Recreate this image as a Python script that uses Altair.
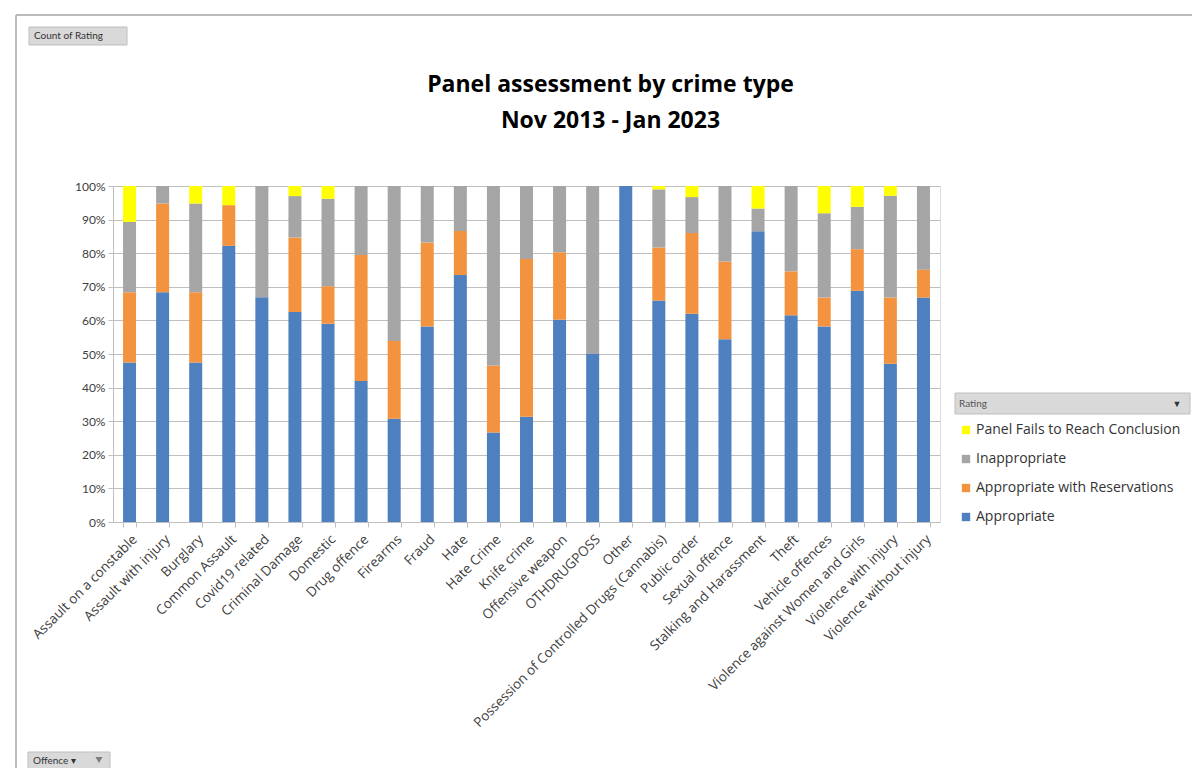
import altair as alt
import pandas as pd

categories = [
    "Assault on a constable", "Assault with injury", "Burglary", "Common Assault",
    "Covid19 related", "Criminal Damage", "Domestic", "Drug offence", "Firearms",
    "Fraud", "Hate", "Hate Crime", "Knife crime", "Offensive weapon", "OTHDRUGPOSS",
    "Other", "Possession of Controlled Drugs (Cannabis)", "Public order",
    "Sexual offence", "Stalking and Harassment", "Theft", "Vehicle offences",
    "Violence against Women and Girls", "Violence with injury", "Violence without injury",
]

# percentage share of each rating per offence (segment sizes)
appropriate = [47.5, 68.4, 47.5, 82.2, 66.9, 62.5, 59.0, 42.0, 30.7, 58.2, 73.5, 26.6, 31.3,
               60.2, 50.0, 100.0, 65.9, 62.0, 54.4, 86.5, 61.5, 58.2, 68.8, 47.1, 66.8]
reservations = [20.9, 26.4, 20.9, 12.1, 0.0, 22.2, 11.2, 37.5, 23.2, 25.0, 13.1, 20.0, 47.0,
                20.1, 0.0, 0.0, 15.8, 24.0, 23.1, 0.0, 13.1, 8.6, 12.4, 19.7, 8.3]
inappropriate = [20.9, 5.2, 26.4, 0.0, 33.1, 12.3, 26.0, 20.5, 46.1, 16.8, 13.4, 53.4, 21.7,
                 19.7, 50.0, 0.0, 17.3, 10.7, 22.5, 6.8, 25.4, 25.1, 12.6, 30.3, 24.9]
fails = [10.7, 0.0, 5.2, 5.7, 0.0, 3.0, 3.8, 0.0, 0.0, 0.0, 0.0, 0.0, 0.0,
         0.0, 0.0, 0.0, 1.0, 3.3, 0.0, 6.7, 0.0, 8.1, 6.2, 2.9, 0.0]

ratings = ["Panel Fails to Reach Conclusion", "Inappropriate",
           "Appropriate with Reservations", "Appropriate"]
colors = ["#FFFF00", "#A5A5A5", "#F39340", "#4E7FBF"]
stack_rank = {"Appropriate": 0, "Appropriate with Reservations": 1,
              "Inappropriate": 2, "Panel Fails to Reach Conclusion": 3}

series = {
    "Appropriate": appropriate,
    "Appropriate with Reservations": reservations,
    "Inappropriate": inappropriate,
    "Panel Fails to Reach Conclusion": fails,
}
rows = []
for name, vals in series.items():
    for cat, v in zip(categories, vals):
        rows.append({"Offence": cat, "Rating": name, "Share": v, "rank": stack_rank[name]})
df = pd.DataFrame(rows)

FONT = "Lato"
UIFONT = "Open Sans"
W, H = 827, 336

bars = alt.Chart(df).mark_bar(size=13).encode(
    x=alt.X("Offence:N", sort=categories, title=None,
            scale=alt.Scale(paddingInner=0.6, paddingOuter=0.3),
            axis=alt.Axis(labelAngle=-45, labelFont=UIFONT, labelFontSize=13.5,
                          labelColor="#404040", tickBand="extent", tickSize=5,
                          tickColor="#BFBFBF", domainColor="#BFBFBF", labelPadding=5,
                          labelLimit=0)),
    y=alt.Y("Share:Q", stack="zero", title=None,
            scale=alt.Scale(domain=[0, 100], nice=False),
            axis=alt.Axis(values=list(range(0, 101, 10)), labelExpr="datum.value + '%'",
                          labelFont=FONT, labelFontSize=12, labelColor="#404040",
                          tickSize=5, tickColor="#BFBFBF", domainColor="#BFBFBF",
                          gridColor="#BFBFBF", gridWidth=1, labelPadding=3)),
    color=alt.Color("Rating:N", scale=alt.Scale(domain=ratings, range=colors),
                    legend=alt.Legend(orient="none", legendX=846, legendY=213,
                                      title="Rating", titleFont=FONT, titleFontSize=10,
                                      titleFontWeight="normal", titleColor="#555555",
                                      titlePadding=14, labelFont=UIFONT, labelFontSize=14,
                                      labelColor="#333333", symbolType="square",
                                      symbolSize=70, symbolStrokeWidth=0, rowPadding=15,
                                      padding=0, labelOffset=3, labelLimit=0)),
    order=alt.Order("rank:Q", sort="ascending"),
)

one = pd.DataFrame({"k": [0]})

frame_top = alt.Chart(one).mark_rule(color="#A6A6A6", strokeWidth=1.5).encode(
    x=alt.value(-97), x2=alt.value(1079), y=alt.value(-171))
frame_left = alt.Chart(one).mark_rule(color="#A6A6A6", strokeWidth=1.5).encode(
    x=alt.value(-97), y=alt.value(-171), y2=alt.value(600))

legend_box = alt.Chart(one).mark_rect(fill="#D9D9D9", stroke="#BFBFBF").encode(
    x=alt.value(842), x2=alt.value(1077), y=alt.value(207), y2=alt.value(228))
legend_arrow = alt.Chart(one).mark_text(text="▼", fontSize=9, color="#333333").encode(
    x=alt.value(1064), y=alt.value(218))

count_box = alt.Chart(one).mark_rect(fill="#D9D9D9", stroke="#BFBFBF").encode(
    x=alt.value(-84), x2=alt.value(14), y=alt.value(-159), y2=alt.value(-141))
count_text = alt.Chart(one).mark_text(text="Count of Rating", font=FONT, fontSize=10,
                                      color="#333333", align="left").encode(
    x=alt.value(-79), y=alt.value(-150))

off_box = alt.Chart(one).mark_rect(fill="#D9D9D9", stroke="#BFBFBF").encode(
    x=alt.value(-85), x2=alt.value(-3), y=alt.value(566), y2=alt.value(584))
off_text = alt.Chart(one).mark_text(text="Offence ▾", font=FONT, fontSize=10,
                                    color="#333333", align="left").encode(
    x=alt.value(-80), y=alt.value(575))
off_funnel = alt.Chart(one).mark_point(shape="triangle-down", filled=True, size=50,
                                       color="#555555").encode(
    x=alt.value(-14), y=alt.value(574))

chart = alt.layer(
    frame_top, frame_left, legend_box, count_box, count_text, off_box, off_text,
    off_funnel, bars, legend_arrow,
).properties(
    width=W, height=H,
    title=alt.TitleParams(["Panel assessment by crime type", "Nov 2013 - Jan 2023"],
                          font=UIFONT, fontSize=23, fontWeight="bold", color="#000000",
                          anchor="middle", frame="group", dx=84, offset=0, dy=119,
                          lineHeight=36),
    autosize=alt.AutoSizeParams(type="none"),
    padding={"left": 105, "top": 178, "right": 252, "bottom": 246},
).configure_view(stroke=None).configure(background="white")

chart.save("out.html", embed_options={"renderer": "svg", "actions": False})
